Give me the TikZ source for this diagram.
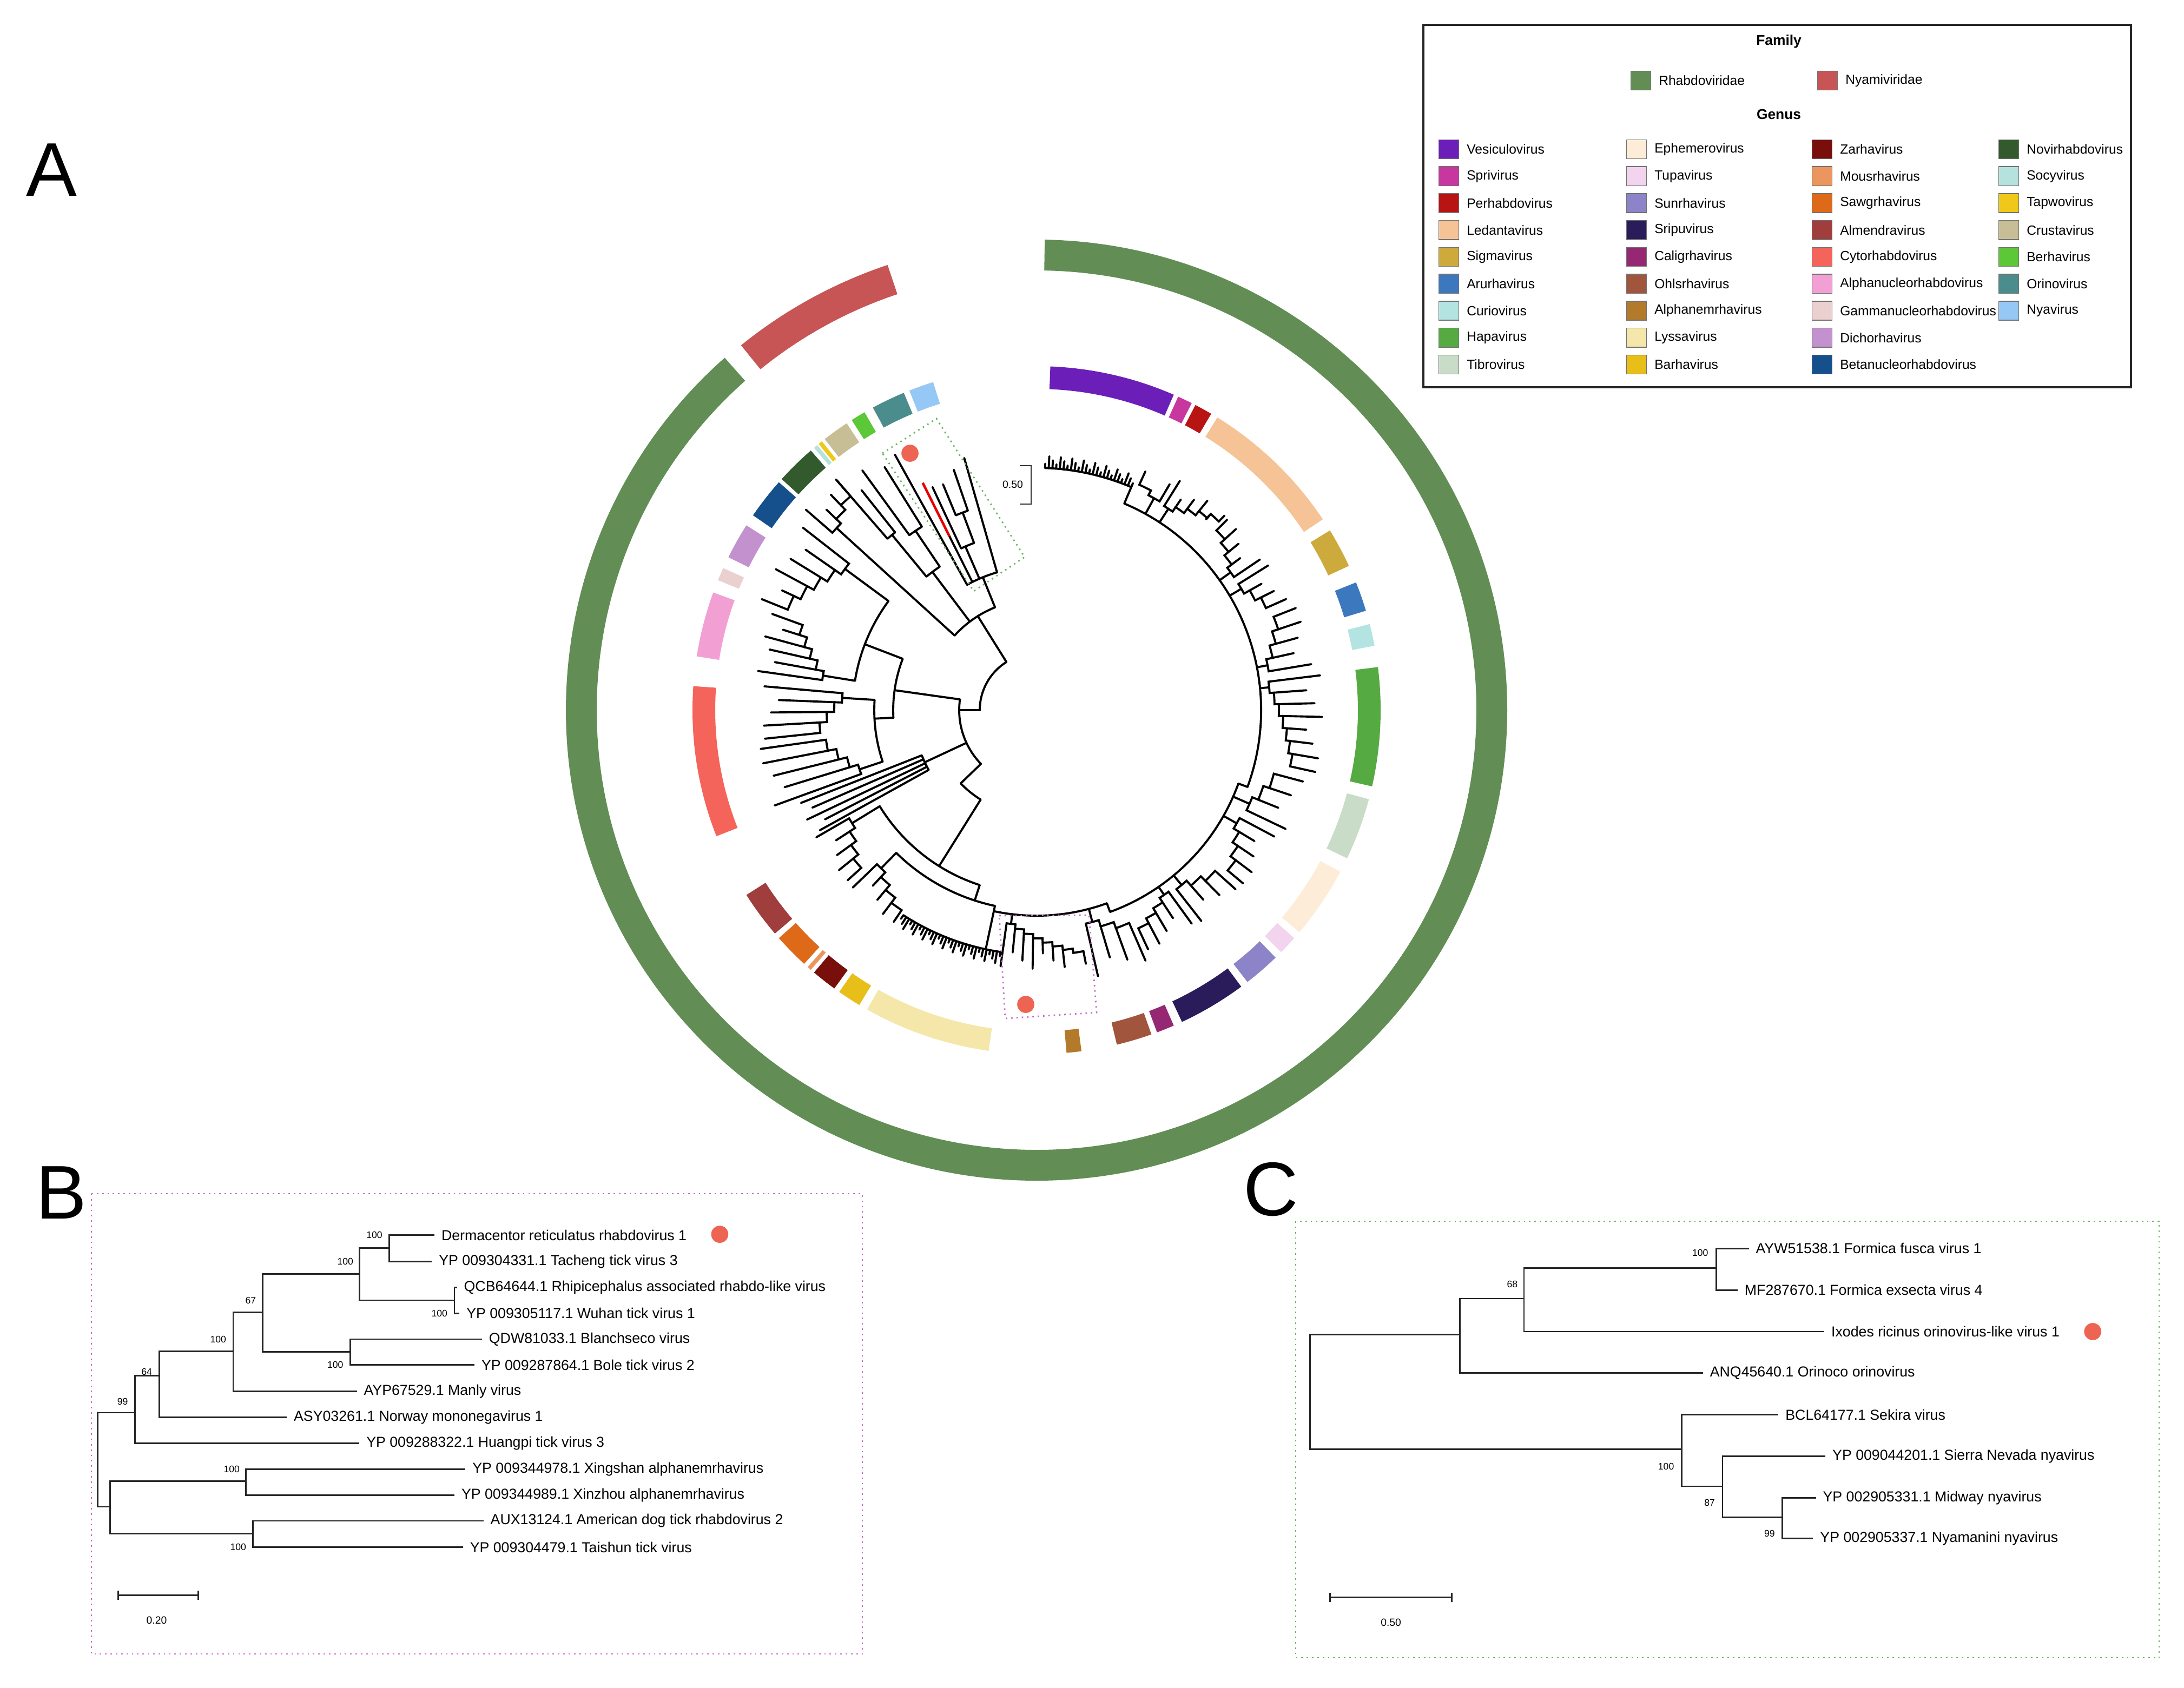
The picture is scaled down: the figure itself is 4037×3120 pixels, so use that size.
\documentclass[tikz,border=0pt]{standalone}
\usepackage{fontspec}
\setmainfont{Liberation Sans}
\usetikzlibrary{arrows.meta}
\usetikzlibrary{positioning}
\usetikzlibrary{calc}

\definecolor{rhabdo}{RGB}{98,142,86}
\definecolor{nyami}{RGB}{200,85,85}
\definecolor{vesiculo}{RGB}{108,30,185}
\definecolor{sprivirus}{RGB}{200,55,160}
\definecolor{perhabdo}{RGB}{185,20,20}
\definecolor{ledanta}{RGB}{245,195,150}
\definecolor{sigma}{RGB}{205,170,60}
\definecolor{arurha}{RGB}{60,120,190}
\definecolor{curio}{RGB}{180,228,225}
\definecolor{hapa}{RGB}{85,170,65}
\definecolor{tibro}{RGB}{200,220,200}
\definecolor{ephemero}{RGB}{253,236,215}
\definecolor{tupa}{RGB}{242,212,238}
\definecolor{sunrha}{RGB}{140,132,200}
\definecolor{sripu}{RGB}{42,28,90}
\definecolor{caligrha}{RGB}{150,40,115}
\definecolor{ohlsrha}{RGB}{160,85,60}
\definecolor{alphanem}{RGB}{178,122,42}
\definecolor{lyssa}{RGB}{245,230,170}
\definecolor{barha}{RGB}{232,190,25}
\definecolor{zarha}{RGB}{120,15,10}
\definecolor{mousrha}{RGB}{235,150,95}
\definecolor{sawgrha}{RGB}{222,105,25}
\definecolor{almendra}{RGB}{160,62,62}
\definecolor{cytorhabdo}{RGB}{245,100,90}
\definecolor{alphanucleo}{RGB}{242,160,212}
\definecolor{gammanucleo}{RGB}{235,208,208}
\definecolor{dichorha}{RGB}{195,145,205}
\definecolor{betanucleo}{RGB}{22,80,140}
\definecolor{novirhabdo}{RGB}{50,90,45}
\definecolor{socy}{RGB}{182,226,222}
\definecolor{tapwo}{RGB}{240,200,25}
\definecolor{crusta}{RGB}{200,190,150}
\definecolor{berha}{RGB}{92,200,55}
\definecolor{orino}{RGB}{75,140,140}
\definecolor{nyavirus}{RGB}{150,200,245}
\definecolor{dotred}{RGB}{238,100,82}
\definecolor{boxpink}{RGB}{200,110,200}
\definecolor{boxgreen}{RGB}{110,180,100}

% polar helpers, used inside the scope centred on the circular tree
\newcommand{\rbr}[3]{\draw[branch] (#1:#2) -- (#1:#3);}
\newcommand{\abr}[3]{\draw[branch] (#1:#3) arc[start angle=#1,end angle=#2,radius=#3];}
\newcommand{\ringseg}[5]{\fill[#5] (#1:#3) arc[start angle=#1,end angle=#2,radius=#3] -- (#2:#4) arc[start angle=#2,end angle=#1,radius=#4] -- cycle;}
\newcommand{\band}[3]{\ringseg{#1}{#2}{594}{636}{#3}}
% ladder clade: first angle, last angle, base radius, step, tip radius, leaves, parent radius
\newcommand{\ladder}[7]{%
  \pgfmathsetmacro\lstep{(#2-#1)/(#6-1)}
  \pgfmathtruncatemacro\llast{#6-2}
  \pgfmathsetmacro\lstem{#1+0.5*\lstep}
  \draw[branch] (\lstem:#7) -- (\lstem:#3);
  \foreach \k in {0,...,\llast}{
    \pgfmathsetmacro\ldA{#1+\k*\lstep}
    \pgfmathsetmacro\ldB{#1+(\k+1)*\lstep}
    \pgfmathsetmacro\ldR{#3+\k*#4}
    \pgfmathsetmacro\ldS{#3+(\k+1)*#4}
    \pgfmathsetmacro\ldT{#5-mod(\k*5,3)*14}
    \draw[branch] (\ldA:\ldT) -- (\ldA:\ldR) arc[start angle=\ldA,end angle=\ldB,radius=\ldR] -- (\ldB:\ldS);
  }
  \draw[branch] (#2:{#3+(#6-1)*#4}) -- (#2:#5);
}
% comb of short tips: first angle, last angle, radius, count
\newcommand{\comb}[4]{%
  \draw[branch] (#1:#3) arc[start angle=#1,end angle=#2,radius=#3];
  \foreach \k in {0,...,#4}{
    \pgfmathsetmacro\cmA{#1+\k*(#2-#1)/#4}
    \pgfmathsetmacro\cmR{#3+8+mod(\k,3)*7}
    \draw[branch] (\cmA:#3) -- (\cmA:\cmR);
  }
}

\begin{document}
\begin{tikzpicture}[x=0.01cm,y=0.01cm,
    branch/.style={line width=1.1pt,line cap=round},
    redbranch/.style={line width=1.3pt,red!90!black},
    treeline/.style={line width=0.8pt,black!85},
    leaflab/.style={anchor=west,inner sep=3.5pt,font=\fontsize{7.6}{9}\selectfont},
    boot/.style={inner sep=0pt,font=\fontsize{5}{6}\selectfont},
    scalelab/.style={inner sep=0pt,font=\fontsize{5.5}{6}\selectfont},
    reddot/.style={circle,fill=dotred,inner sep=0pt,minimum size=9pt},
    legkey/.style={draw=black!55,line width=0.4pt,minimum width=10.5pt,minimum height=10pt,inner sep=0pt},
    legtext/.style={inner sep=0pt,anchor=west,font=\fontsize{7}{8}\selectfont},
    legtitle/.style={inner sep=0pt,font=\bfseries\fontsize{7.5}{9}\selectfont},
    panellab/.style={inner sep=0pt,font=\fontsize{40}{40}\selectfont},
    gbox/.style={boxgreen,dotted,line width=0.8pt},
    pbox/.style={boxpink,dotted,line width=0.8pt},
  ]
  \useasboundingbox[fill=white] (0,0) rectangle (4037,-3120);

  %PANEL LABELS
  \node[panellab] (labA) at (95,-314) {A};
  \node[panellab] (labB) at (113,-2205) {B};
  \node[panellab] (labC) at (2349,-2199) {C};

  %LEGEND
  \draw[line width=1.3pt,black!85] (2631,-46) rectangle (3939,-716);
  \node[legtitle] (family) at (3288,-77) {Family};
  \node[legtitle] (genus) at (3288,-211) {Genus};
  \node[legkey,fill=rhabdo] (krhabdo) at (3033,-149) {};
  \node[legtext,right=3.8pt of krhabdo] (lrhabdo) {Rhabdoviridae};
  \node[legkey,fill=nyami] (knyami) at (3378,-149) {};
  \node[legtext,right=3.8pt of knyami] (lnyami) {Nyamiviridae};
  \foreach \gname/\gcol [count=\i from 0] in {Vesiculovirus/vesiculo,Sprivirus/sprivirus,Perhabdovirus/perhabdo,Ledantavirus/ledanta,Sigmavirus/sigma,Arurhavirus/arurha,Curiovirus/curio,Hapavirus/hapa,Tibrovirus/tibro}{
    \node[legkey,fill=\gcol] (keya\i) at (2678,{-276-49.75*\i}) {};
    \node[legtext,right=3.8pt of keya\i] (laba\i) {\gname};
  }
  \foreach \gname/\gcol [count=\i from 0] in {Ephemerovirus/ephemero,Tupavirus/tupa,Sunrhavirus/sunrha,Sripuvirus/sripu,Caligrhavirus/caligrha,Ohlsrhavirus/ohlsrha,Alphanemrhavirus/alphanem,Lyssavirus/lyssa,Barhavirus/barha}{
    \node[legkey,fill=\gcol] (keyb\i) at (3025,{-276-49.75*\i}) {};
    \node[legtext,right=3.8pt of keyb\i] (labb\i) {\gname};
  }
  \foreach \gname/\gcol [count=\i from 0] in {Zarhavirus/zarha,Mousrhavirus/mousrha,Sawgrhavirus/sawgrha,Almendravirus/almendra,Cytorhabdovirus/cytorhabdo,Alphanucleorhabdovirus/alphanucleo,Gammanucleorhabdovirus/gammanucleo,Dichorhavirus/dichorha,Betanucleorhabdovirus/betanucleo}{
    \node[legkey,fill=\gcol] (keyc\i) at (3368,{-276-49.75*\i}) {};
    \node[legtext,right=3.8pt of keyc\i] (labc\i) {\gname};
  }
  \foreach \gname/\gcol [count=\i from 0] in {Novirhabdovirus/novirhabdo,Socyvirus/socy,Tapwovirus/tapwo,Crustavirus/crusta,Berhavirus/berha,Orinovirus/orino,Nyavirus/nyavirus}{
    \node[legkey,fill=\gcol] (keyd\i) at (3713,{-276-49.75*\i}) {};
    \node[legtext,right=3.8pt of keyd\i] (labd\i) {\gname};
  }

  %CIRCULAR TREE
  \begin{scope}[shift={(1916,-1313)}]
    %FAMILY RING
    \ringseg{89}{-228.5}{813}{870}{rhabdo}
    \ringseg{108.5}{129}{811}{868}{nyami}
    %GENUS RING
    \band{66.5}{87.7}{vesiculo}
    \band{63.2}{65.7}{sprivirus}
    \band{59.5}{62.5}{perhabdo}
    \band{33.7}{58.3}{ledanta}
    \band{24.8}{31.5}{sigma}
    \band{16.8}{21.8}{arurha}
    \band{10.8}{14.5}{curio}
    \band{-12.8}{7.2}{hapa}
    \band{-25.5}{-15}{tibro}
    \band{-40.2}{-28}{ephemero}
    \band{-44.7}{-41.5}{tupa}
    \band{-52.2}{-46}{sunrha}
    \band{-65}{-53.5}{sripu}
    \band{-69.5}{-66.5}{caligrha}
    \band{-76.5}{-70.5}{ohlsrha}
    \band{-85}{-82.5}{alphanem}
    \band{-119.5}{-98}{lyssa}
    \band{-125}{-121}{barha}
    \band{-130.3}{-126}{zarha}
    \band{-131.7}{-131}{mousrha}
    \band{-138.5}{-132.5}{sawgrha}
    \band{-147.5}{-139.5}{almendra}
    \band{176}{201.5}{cytorhabdo}
    \band{160}{171}{alphanucleo}
    \band{155.6}{157.8}{gammanucleo}
    \band{147.5}{153.6}{dichorha}
    \band{138.5}{145.5}{betanucleo}
    \band{131}{137.8}{novirhabdo}
    \band{129.6}{130.3}{socy}
    \band{128.6}{129.3}{tapwo}
    \band{123.5}{128}{crusta}
    \band{120}{122.5}{berha}
    \band{112.7}{118.4}{orino}
    \band{107.5}{111.7}{nyavirus}
    %ROOT
    \abr{122}{180}{105}
    \rbr{180}{105}{143}
    \rbr{122}{105}{205}
    \abr{172}{224}{143}
    %UPPER LEFT CLADES
    \abr{112}{137.7}{205}
    \ladder{139}{131}{500}{12}{565}{4}{205}
    \rbr{127}{205}{320}
    \abr{124}{129.5}{320}
    \rbr{124}{320}{400}
    \abr{122}{126}{400}
    \rbr{122}{400}{530}
    \rbr{126}{400}{548}
    \rbr{129.5}{320}{420}
    \abr{128.5}{131}{420}
    \rbr{128.5}{420}{520}
    \rbr{131}{420}{562}
    %BOXED CLADE
    \rbr{112}{205}{265}
    \abr{106}{119}{265}
    \rbr{119}{265}{540}
    \rbr{116.6}{265}{360}
    \draw[redbranch] (116.6:360) -- (116.6:470);
    \rbr{113.5}{265}{330}
    \abr{110.5}{115}{330}
    \rbr{115}{330}{455}
    \rbr{110.5}{330}{390}
    \abr{109}{112.5}{390}
    \rbr{109}{390}{470}
    \rbr{112.5}{390}{452}
    \rbr{106}{265}{485}
    %LEFT CLADES
    \rbr{172}{143}{265}
    \abr{159}{183}{265}
    \rbr{159}{265}{340}
    \abr{143.6}{170.8}{340}
    \ladder{142}{158}{440}{14}{548}{6}{340}
    \ladder{172}{160}{400}{15}{520}{6}{340}
    \rbr{183}{265}{300}
    \abr{176.4}{198.5}{300}
    \ladder{175}{186}{360}{14}{505}{5}{300}
    \ladder{200}{188}{345}{16}{515}{5}{300}
    \rbr{205}{143}{228}
    \abr{201.5}{209}{228}
    \rbr{201.5}{228}{468}
    \rbr{203.5}{228}{452}
    \rbr{205.5}{228}{470}
    \rbr{207.3}{228}{440}
    \rbr{209}{228}{458}
    %LOWER LEFT CLADES
    \rbr{224}{143}{195}
    \abr{224}{238}{195}
    \rbr{238}{195}{340}
    \abr{211.5}{252}{340}
    \ladder{210}{222}{400}{12}{470}{5}{340}
    \rbr{252}{340}{370}
    \abr{225.5}{258}{370}
    \ladder{224}{236}{410}{12}{472}{5}{370}
    \rbr{258}{370}{452}
    \comb{237}{261.5}{452}{30}
    %RIGHT BACKBONE
    \abr{258}{290}{380}
    \rbr{290}{380}{397}
    \abr{290}{340}{397}
    \rbr{340}{397}{415}
    \abr{340}{427}{415}
    %RIGHT CLADES
    \ladder{262}{281}{398}{8}{478}{9}{380}
    \ladder{283}{293.5}{405}{12}{505}{4}{380}
    \ladder{306}{295}{415}{10}{488}{5}{397}
    \ladder{308}{318}{420}{12}{495}{4}{397}
    \ladder{332}{320}{425}{12}{498}{5}{397}
    \ladder{334.5}{345}{430}{12}{510}{4}{397}
    \ladder{367}{347.5}{432}{8}{528}{8}{415}
    \ladder{369.5}{381.5}{435}{12}{515}{5}{415}
    \ladder{392}{384}{440}{12}{505}{4}{415}
    \ladder{394}{405}{440}{10}{498}{5}{415}
    \ladder{418}{406}{445}{10}{500}{6}{415}
    \ladder{419.5}{425.5}{448}{10}{485}{3}{415}
    \rbr{427}{415}{448}
    \comb{427}{448}{448}{24}
  \end{scope}

  %HIGHLIGHT BOXES
  \draw[gbox] (1631,-838) -- (1731,-774) -- (1894,-1030) -- (1800,-1093) -- cycle;
  \draw[pbox] (1847,-1693) -- (2013,-1692) -- (2027,-1872) -- (1858,-1883) -- cycle;
  \node[reddot] (dotA1) at (1682,-838) {};
  \node[reddot] (dotA2) at (1896,-1857) {};
  %SCALE A
  \draw[line width=0.7pt,black!80] (1885,-861) -- (1906,-861) -- (1906,-932) -- (1885,-932);
  \node[scalelab] (scaleA) at (1872,-896) {0.50};

  %PANEL B
  \draw[pbox] (169,-2207) rectangle (1594,-3058);
  \begin{scope}[shift={(160,-2195)},x=0.00925cm,y=-0.00561cm]
    %LEAVES
    \node[leaflab] (b1) at (695,158) {Dermacentor reticulatus rhabdovirus 1};
    \node[leaflab] (b2) at (690,245) {YP 009304331.1 Tacheng tick virus 3};
    \node[leaflab] (b3) at (740,330) {QCB64644.1 Rhipicephalus associated rhabdo-like virus};
    \node[leaflab] (b4) at (745,415) {YP 009305117.1 Wuhan tick virus 1};
    \node[leaflab] (b5) at (790,500) {QDW81033.1 Blanchseco virus};
    \node[leaflab] (b6) at (775,585) {YP 009287864.1 Bole tick virus 2};
    \node[leaflab] (b7) at (540,672) {AYP67529.1 Manly virus};
    \node[leaflab] (b8) at (400,757) {ASY03261.1 Norway mononegavirus 1};
    \node[leaflab] (b9) at (545,842) {YP 009288322.1 Huangpi tick virus 3};
    \node[leaflab] (b10) at (757,928) {YP 009344978.1 Xingshan alphanemrhavirus};
    \node[leaflab] (b11) at (735,1013) {YP 009344989.1 Xinzhou alphanemrhavirus};
    \node[leaflab] (b12) at (793,1098) {AUX13124.1 American dog tick rhabdovirus 2};
    \node[leaflab] (b13) at (752,1185) {YP 009304479.1 Taishun tick virus};
    \node[reddot] (dotB) at (1265,155) {};
    %INNER NODES
    \coordinate (bA) at (605,200);
    \coordinate (bB) at (735,372);
    \coordinate (bC) at (545,285);
    \coordinate (bD) at (527,542);
    \coordinate (bE) at (352,412);
    \coordinate (bF) at (293,540);
    \coordinate (bG) at (145,620);
    \coordinate (bH) at (97,742);
    \coordinate (bI) at (318,968);
    \coordinate (bJ) at (332,1140);
    \coordinate (bK) at (47,1052);
    \coordinate (bR) at (22,900);
    %BRANCHES
    \draw[treeline] (bA) |- (b1.west) (bA) |- (b2.west);
    \draw[treeline] (bB) |- (b3.west) (bB) |- (b4.west);
    \draw[treeline] (bC) |- (bA) (bC) |- (bB);
    \draw[treeline] (bD) |- (b5.west) (bD) |- (b6.west);
    \draw[treeline] (bE) |- (bC) (bE) |- (bD);
    \draw[treeline] (bF) |- (bE) (bF) |- (b7.west);
    \draw[treeline] (bG) |- (bF) (bG) |- (b8.west);
    \draw[treeline] (bH) |- (bG) (bH) |- (b9.west);
    \draw[treeline] (bI) |- (b10.west) (bI) |- (b11.west);
    \draw[treeline] (bJ) |- (b12.west) (bJ) |- (b13.west);
    \draw[treeline] (bK) |- (bI) (bK) |- (bJ);
    \draw[treeline] (bR) |- (bH) (bR) |- (bK);
    %SUPPORT
    \node[boot] (sbA) at (575,158) {100};
    \node[boot] (sbB) at (705,415) {100};
    \node[boot] (sbC) at (517,245) {100};
    \node[boot] (sbD) at (497,585) {100};
    \node[boot] (sbE) at (328,372) {67};
    \node[boot] (sbF) at (263,500) {100};
    \node[boot] (sbG) at (120,607) {64};
    \node[boot] (sbH) at (72,705) {99};
    \node[boot] (sbI) at (290,928) {100};
    \node[boot] (sbJ) at (303,1185) {100};
    %SCALE
    \coordinate (barB1) at (62,1343);
    \coordinate (barB2) at (225,1343);
    \draw[treeline,{Bar[width=5pt]}-{Bar[width=5pt]}] (barB1) -- (barB2);
    \node[scalelab] (scaleB) at (140,1425) {0.20};
  \end{scope}

  %PANEL C
  \draw[gbox] (2395,-2258) rectangle (3991,-3065);
  \begin{scope}[shift={(2385,-2250)},x=0.01033cm,y=-0.00529cm]
    %LEAVES
    \node[leaflab] (c1) at (820,110) {AYW51538.1 Formica fusca virus 1};
    \node[leaflab] (c2) at (800,255) {MF287670.1 Formica exsecta virus 4};
    \node[leaflab] (c3) at (955,400) {Ixodes ricinus orinovirus-like virus 1};
    \node[leaflab] (c4) at (738,545) {ANQ45640.1 Orinoco orinovirus};
    \node[leaflab] (c5) at (873,690) {BCL64177.1 Sekira virus};
    \node[leaflab] (c6) at (957,835) {YP 009044201.1 Sierra Nevada nyavirus};
    \node[leaflab] (c7) at (940,980) {YP 002905331.1 Midway nyavirus};
    \node[leaflab] (c8) at (935,1122) {YP 002905337.1 Nyamanini nyavirus};
    \node[reddot] (dotC) at (1435,400) {};
    %INNER NODES
    \coordinate (cA) at (762,178);
    \coordinate (cB) at (418,285);
    \coordinate (cC) at (303,410);
    \coordinate (cD) at (880,1048);
    \coordinate (cE) at (773,940);
    \coordinate (cF) at (700,810);
    \coordinate (cR) at (35,610);
    %BRANCHES
    \draw[treeline] (cA) |- (c1.west) (cA) |- (c2.west);
    \draw[treeline] (cB) |- (cA) (cB) |- (c3.west);
    \draw[treeline] (cC) |- (cB) (cC) |- (c4.west);
    \draw[treeline] (cD) |- (c7.west) (cD) |- (c8.west);
    \draw[treeline] (cE) |- (c6.west) (cE) |- (cD);
    \draw[treeline] (cF) |- (c5.west) (cF) |- (cE);
    \draw[treeline] (cR) |- (cC) (cR) |- (cF);
    %SUPPORT
    \node[boot] (scA) at (733,125) {100};
    \node[boot] (scB) at (397,235) {68};
    \node[boot] (scD) at (857,1105) {99};
    \node[boot] (scE) at (750,997) {87};
    \node[boot] (scF) at (672,870) {100};
    %SCALE
    \coordinate (barC1) at (70,1328);
    \coordinate (barC2) at (290,1328);
    \draw[treeline,{Bar[width=5pt]}-{Bar[width=5pt]}] (barC1) -- (barC2);
    \node[scalelab] (scaleC) at (180,1415) {0.50};
  \end{scope}
\end{tikzpicture}
\end{document}
